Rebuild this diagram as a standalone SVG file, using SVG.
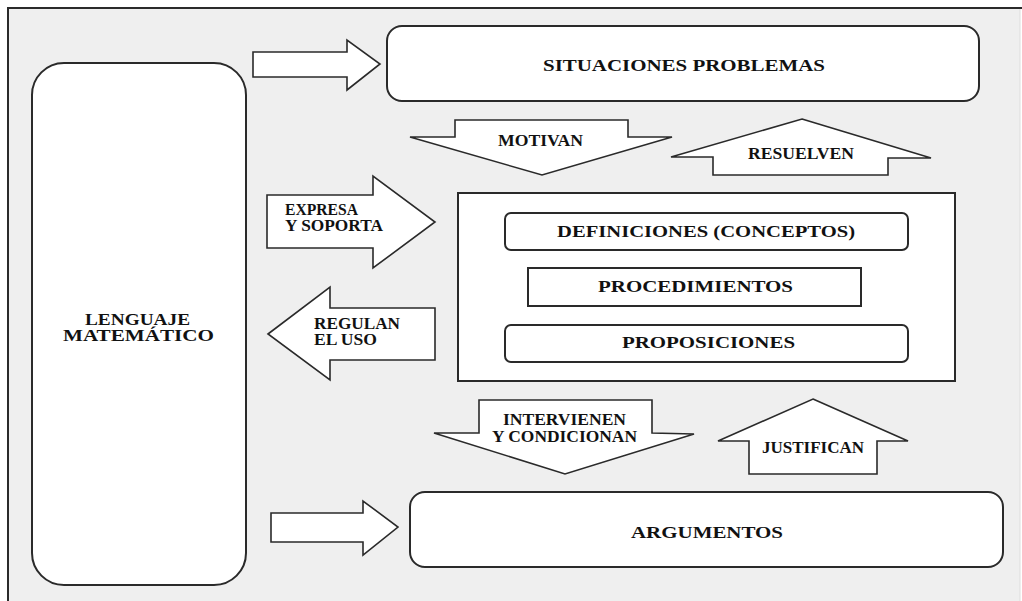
<svg xmlns="http://www.w3.org/2000/svg" width="1022" height="601" viewBox="0 0 1022 601">
<style>
.bg{fill:#efefef;stroke:none}
.frame{fill:none;stroke:#2a2a2a;stroke-width:2}
.box{fill:#ffffff;stroke:#2a2a2a;stroke-width:2}
.arr{fill:#ffffff;stroke:#2a2a2a;stroke-width:1.6;stroke-linejoin:miter}
text{font-family:"Liberation Serif","Times New Roman",serif;font-weight:bold;font-size:16px;fill:#111}
</style>
<rect x="0" y="0" width="1022" height="601" fill="#ffffff"/>
<rect class="bg" x="8" y="8" width="1012" height="593"/>
<path class="frame" d="M8,601 V8 H1022"/>
<line x1="1020" y1="9" x2="1020" y2="601" stroke="#dddddd" stroke-width="1"/>

<g id="lenguaje">
<rect class="box" x="32" y="63" width="214" height="522" rx="32" ry="32"/>
<text x="85" y="325" textLength="105" lengthAdjust="spacingAndGlyphs">LENGUAJE</text>
<text x="63" y="341" textLength="151" lengthAdjust="spacingAndGlyphs">MATEMÁTICO</text>
</g>

<g id="situaciones">
<rect class="box" x="387" y="26" width="592" height="75" rx="15" ry="15"/>
<text x="543" y="71" textLength="282" lengthAdjust="spacingAndGlyphs">SITUACIONES PROBLEMAS</text>
</g>

<g id="central">
<rect class="box" x="458" y="193" width="497" height="188"/>
</g>

<g id="definiciones">
<rect class="box" x="505" y="213" width="403" height="37" rx="6" ry="6"/>
<text x="557" y="237" textLength="298" lengthAdjust="spacingAndGlyphs">DEFINICIONES (CONCEPTOS)</text>
</g>

<g id="procedimientos">
<rect class="box" x="528" y="268" width="333" height="38"/>
<text x="598" y="292" textLength="195" lengthAdjust="spacingAndGlyphs">PROCEDIMIENTOS</text>
</g>

<g id="proposiciones">
<rect class="box" x="505" y="325" width="403" height="37" rx="6" ry="6"/>
<text x="622" y="348" textLength="173" lengthAdjust="spacingAndGlyphs">PROPOSICIONES</text>
</g>

<g id="argumentos">
<rect class="box" x="410" y="492" width="593" height="75" rx="15" ry="15"/>
<text x="631" y="538" textLength="152" lengthAdjust="spacingAndGlyphs">ARGUMENTOS</text>
</g>

<g id="connectors">
<polygon class="arr" points="253,52 347,52 347,40 380,64 347,90 347,77 253,77"/>
<polygon class="arr" points="271,513 363,513 363,501 398,527 363,555 363,542 271,542"/>

<polygon class="arr" points="455,120 628,120 628,137 672,137 542,175 410,137 455,137"/>
<text x="498" y="146" textLength="85" lengthAdjust="spacingAndGlyphs">MOTIVAN</text>

<polygon class="arr" points="802,119 931,158 888,158 888,175 713,175 713,157 671,157"/>
<text x="748" y="159" textLength="106" lengthAdjust="spacingAndGlyphs">RESUELVEN</text>

<polygon class="arr" points="267,195 373,195 373,176 435,222 373,268 373,248 267,248"/>
<text x="285" y="215" textLength="73" lengthAdjust="spacingAndGlyphs">EXPRESA</text>
<text x="285" y="231" textLength="98" lengthAdjust="spacingAndGlyphs">Y SOPORTA</text>

<polygon class="arr" points="268,334 330,287 330,308 435,308 435,360 330,360 330,380"/>
<text x="314" y="329" textLength="86" lengthAdjust="spacingAndGlyphs">REGULAN</text>
<text x="314" y="345" textLength="63" lengthAdjust="spacingAndGlyphs">EL USO</text>

<polygon class="arr" points="479,400 652,400 652,433 694,434 565,474 434,433 479,433"/>
<text x="503" y="425" textLength="123" lengthAdjust="spacingAndGlyphs">INTERVIENEN</text>
<text x="492" y="442" textLength="145" lengthAdjust="spacingAndGlyphs">Y CONDICIONAN</text>

<polygon class="arr" points="813,399 908,441 877,441 877,474 749,474 749,441 718,441"/>
<text x="762" y="453" textLength="102" lengthAdjust="spacingAndGlyphs">JUSTIFICAN</text>
</g>
</svg>
